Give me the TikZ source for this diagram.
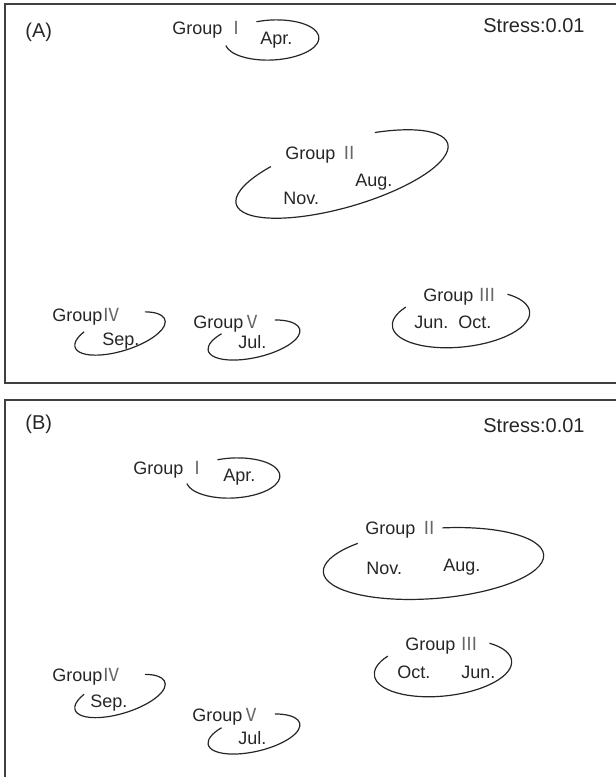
\documentclass[tikz,border=0pt]{standalone}
\usepackage{fontspec}
\setmainfont{Liberation Sans}
\newfontfamily\cjk{Noto Sans CJK SC}
\newcommand{\roemisch}[1]{{\cjk\color{black!60}#1}}
\begin{document}
\begin{tikzpicture}[x=0.5pt, y=-0.5pt,
  rahmen/.style={draw=black!75, line width=0.7pt},
  ring/.style={draw=black!85, line width=0.6pt},
  schrift/.style={anchor=base west, inner sep=0pt, text=black!85, font=\small},
  titel/.style={schrift, font=\normalsize}]
\useasboundingbox (0,0) rectangle (616,777);
% frames of the two panels
\draw[rahmen] (616,4) -- (5,4) -- (5,383) -- (616,383);
\draw[rahmen] (616,400) -- (5,400) -- (5,777);
\node[titel] (a-titel) at (25,37) {(A)};
\node[titel] (a-stress) at (483,32) {Stress:0.01};
\node[titel] (b-titel) at (25,429) {(B)};
\node[titel] (b-stress) at (483,432) {Stress:0.01};
% open ellipses round the groups
\foreach \xm/\ym/\rx/\ry/\winkel/\von/\bis in {
  272/40/47/20/3/-108/171, 342/174/110/33.5/16/-67/233, 461/319/69/28/6/-45/219,
  120/333.5/47/17.5/17/-50/224, 254/340/47/17.5/13/-58/230,
  233/478/47/20/3/-108/171, 433.5/563.5/110.5/35/4.5/-84/228, 443/668/69/28/6/-45/219,
  120/696/47/17.5/17/-50/224, 254/734/47/17.5/13/-58/230}
{
  \draw[ring, shift={(\xm,\ym)}, rotate=\winkel] ({\von}:{\rx} and {\ry}) arc[start angle=\von, end angle=\bis, x radius=\rx, y radius=\ry];
}
% group and month labels
\foreach \name/\x/\y/\txt in {
  a-g1/172/34/{Group \roemisch{Ⅰ}}, a-apr/260/44/{Apr.},
  a-g2/285/159/{Group \roemisch{Ⅱ}}, a-aug/355/186/{Aug.}, a-nov/283/204/{Nov.},
  a-g3/423/301/{Group \roemisch{Ⅲ}}, a-jun/414/328/{Jun.}, a-oct/458/328/{Oct.},
  a-g4/52/321/{Group\roemisch{Ⅳ}}, a-sep/102/345/{Sep.},
  a-g5/193/328/{Group\roemisch{Ⅴ}}, a-jul/238/348/{Jul.},
  b-g1/133/474/{Group \roemisch{Ⅰ}}, b-apr/223/481/{Apr.},
  b-g2/365/534/{Group \roemisch{Ⅱ}}, b-nov/366/574/{Nov.}, b-aug/443/571/{Aug.},
  b-g3/405/650/{Group \roemisch{Ⅲ}}, b-oct/397/678/{Oct.}, b-jun/461/678/{Jun.},
  b-g4/52/681/{Group\roemisch{Ⅳ}}, b-sep/90/707/{Sep.},
  b-g5/192/721/{Group\roemisch{Ⅴ}}, b-jul/238/744/{Jul.}}
{
  \node[schrift] (\name) at (\x,\y) {\txt};
}
\end{tikzpicture}
\end{document}
